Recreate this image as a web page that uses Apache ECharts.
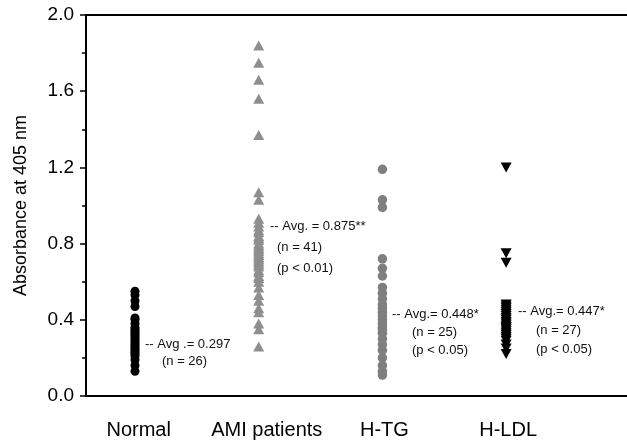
<!DOCTYPE html>
<html><head><meta charset="utf-8">
<script src="https://cdn.jsdelivr.net/npm/echarts@6/dist/echarts.min.js"></script>
<style>html,body{margin:0;padding:0;background:#fff}#c{width:627px;height:444px}</style>
</head><body><div id="c"></div>
<script>
const categories = ['Normal', 'AMI patients', 'H-TG', 'H-LDL'];
const yTicks = [0, 0.4, 0.8, 1.2, 1.6, 2.0];
const normalVals = [0.55,0.53,0.50,0.47,0.41,0.40,0.38,0.36,0.35,0.34,0.33,0.32,0.31,0.30,0.29,0.28,0.27,0.26,0.25,0.24,0.23,0.22,0.21,0.19,0.16,0.13];
const amiVals = [1.84,1.75,1.66,1.56,1.37,1.07,1.03,0.93,0.91,0.89,0.87,0.86,0.84,0.83,0.82,0.80,0.79,0.78,0.77,0.76,0.75,0.74,0.73,0.72,0.71,0.70,0.69,0.68,0.66,0.65,0.63,0.62,0.60,0.57,0.53,0.50,0.46,0.44,0.38,0.35,0.26];
const htgVals = [1.19,1.03,0.99,0.72,0.67,0.63,0.57,0.54,0.51,0.48,0.46,0.44,0.42,0.40,0.38,0.36,0.35,0.33,0.30,0.27,0.24,0.20,0.16,0.13,0.11];
const hldlVals = [1.20,0.75,0.70,0.48,0.47,0.46,0.45,0.44,0.43,0.42,0.41,0.40,0.39,0.38,0.37,0.36,0.36,0.35,0.34,0.33,0.32,0.31,0.30,0.29,0.27,0.25,0.22];
const annotations = [
  ['-- Avg .= 0.297', '(n = 26)'],
  ['-- Avg. = 0.875**', '(n = 41)', '(p < 0.01)'],
  ['-- Avg.= 0.448*', '(n = 25)', '(p < 0.05)'],
  ['-- Avg.= 0.447*', '(n = 27)', '(p < 0.05)']
];

const FONT = '"Liberation Sans", Arial, sans-serif';
const toPts = (vals, x) => vals.map(v => [x, v]);

// annotation text placement (pixels)
const annoPos = [
  {x0: 145, x1: 162, y: 344, dy: 17},
  {x0: 270, x1: 277, y: 226, dy: 21},
  {x0: 392, x1: 412, y: 314, dy: 18},
  {x0: 518, x1: 536, y: 311, dy: 19}
];
const graphics = [];
annotations.forEach((lines, i) => {
  const p = annoPos[i];
  lines.forEach((t, j) => {
    graphics.push({type: 'text', x: j === 0 ? p.x0 : p.x1, y: p.y + j * p.dy,
      style: {text: t, fill: '#111', font: '13px ' + FONT, textVerticalAlign: 'middle'}});
  });
});

const chart = echarts.init(document.getElementById('c'), null, {renderer: 'canvas'});
chart.setOption({
  animation: false,
  backgroundColor: '#fff',
  grid: {left: 86, right: 0, top: 15, bottom: 48},
  xAxis: [{
    type: 'value', min: 0.604, max: 4.977,
    axisLine: {show: true, lineStyle: {color: '#000', width: 2}},
    axisTick: {show: false}, splitLine: {show: false},
    axisLabel: {customValues: [1.03, 2.065, 3.016, 4.016], formatter: v => categories[Math.round(v) - 1],
      color: '#000', fontSize: 20, fontFamily: FONT, margin: 24, showMinLabel: true, showMaxLabel: true}
  }, {
    type: 'value', position: 'top', min: 0.604, max: 4.977,
    axisLine: {show: true, lineStyle: {color: '#000', width: 2}},
    axisTick: {show: false}, axisLabel: {show: false}, splitLine: {show: false}
  }],
  yAxis: {
    type: 'value', min: 0, max: 2, interval: 0.4,
    name: 'Absorbance at 405 nm', nameLocation: 'middle', nameGap: 56,
    nameTextStyle: {color: '#000', fontSize: 18, fontFamily: FONT},
    axisLine: {show: true, lineStyle: {color: '#000', width: 2}},
    axisTick: {show: true, length: 6, lineStyle: {color: '#000', width: 1.5}},
    minorTick: {show: true, splitNumber: 2, length: 4, lineStyle: {color: '#000', width: 1.5}},
    splitLine: {show: false},
    axisLabel: {formatter: v => yTicks.includes(+v.toFixed(1)) ? v.toFixed(1) : '', color: '#000', fontSize: 19, fontFamily: FONT, margin: 12}
  },
  graphic: graphics,
  series: [
    {type: 'scatter', data: toPts(normalVals, 1), symbol: 'circle', symbolSize: 9, itemStyle: {color: '#000', opacity: 1}},
    {type: 'scatter', data: toPts(amiVals, 2), symbol: 'triangle', symbolSize: [11, 10], itemStyle: {color: '#8e8e8e', opacity: 1}},
    {type: 'scatter', data: toPts(htgVals, 3), symbol: 'circle', symbolSize: 9.5, itemStyle: {color: '#7f7f7f', opacity: 1}},
    {type: 'scatter', data: toPts(hldlVals, 4), symbol: 'triangle', symbolRotate: 180, symbolSize: [11, 10], itemStyle: {color: '#000', opacity: 1}}
  ]
});
</script></body></html>
